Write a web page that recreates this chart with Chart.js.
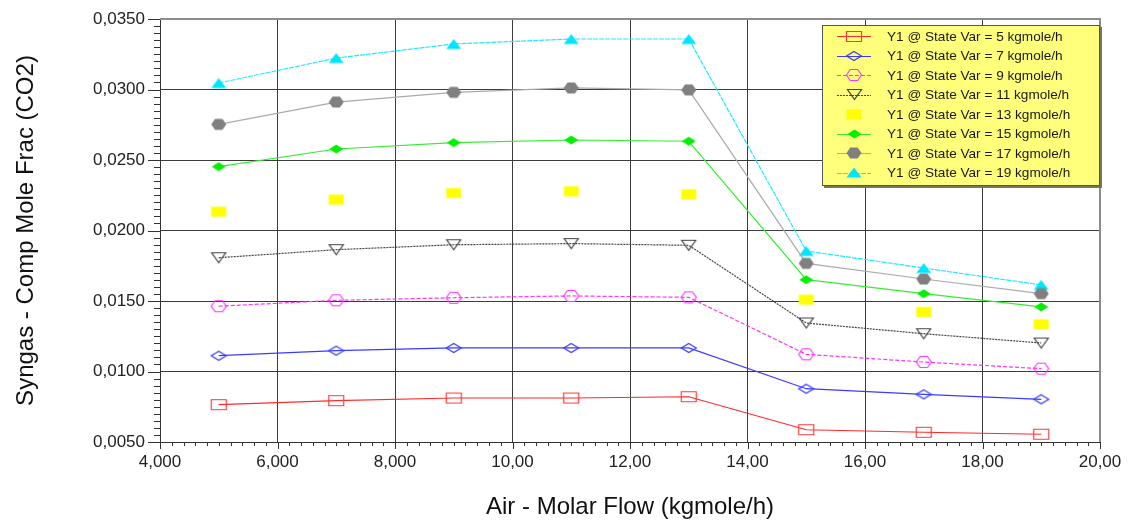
<!DOCTYPE html>
<html>
<head>
<meta charset="utf-8">
<title>Syngas CO2 mole fraction vs air flow</title>
<script src="https://cdn.jsdelivr.net/npm/chart.js@4/dist/chart.umd.min.js"></script>
<style>
  html, body { margin: 0; padding: 0; background: #ffffff; }
  #wrap { width: 1129px; height: 524px; position: relative; }
</style>
</head>
<body>
<div id="wrap"><canvas id="chart" width="1129" height="524"></canvas></div>
<script>
// Air molar flow (kgmole/h) for each case
const airFlow = [5, 7, 9, 11, 13, 15, 17, 19];

// CO2 mole fraction in syngas, one array per state variable value
const sv5  = [0.00765, 0.00793, 0.00812, 0.00812, 0.00821, 0.00587, 0.00569, 0.00555];
const sv7  = [0.01112, 0.01148, 0.01167, 0.01167, 0.01167, 0.00878, 0.00838, 0.00803];
const sv9  = [0.01463, 0.01505, 0.01523, 0.01536, 0.01526, 0.01122, 0.01067, 0.01020];
const sv11 = [0.01807, 0.01864, 0.01899, 0.01907, 0.01895, 0.01344, 0.01268, 0.01202];
const sv13 = [0.02133, 0.02219, 0.02266, 0.02278, 0.02257, 0.01509, 0.01422, 0.01335];
const sv15 = [0.02453, 0.02578, 0.02623, 0.02642, 0.02633, 0.01651, 0.01552, 0.01458];
const sv17 = [0.02753, 0.02911, 0.02980, 0.03011, 0.02997, 0.01767, 0.01656, 0.01552];
const sv19 = [0.03046, 0.03223, 0.03323, 0.03358, 0.03358, 0.01855, 0.01734, 0.01614];

const seriesLabels = [
  'Y1 @ State Var = 5 kgmole/h',
  'Y1 @ State Var = 7 kgmole/h',
  'Y1 @ State Var = 9 kgmole/h',
  'Y1 @ State Var = 11 kgmole/h',
  'Y1 @ State Var = 13 kgmole/h',
  'Y1 @ State Var = 15 kgmole/h',
  'Y1 @ State Var = 17 kgmole/h',
  'Y1 @ State Var = 19 kgmole/h'
];

const xTickValues = [4, 6, 8, 10, 12, 14, 16, 18, 20];
const xTickLabels = ['4,000', '6,000', '8,000', '10,00', '12,00', '14,00', '16,00', '18,00', '20,00'];
const yTickValues = [0.005, 0.010, 0.015, 0.020, 0.025, 0.030, 0.035];
const yTickLabels = ['0,0050', '0,0100', '0,0150', '0,0200', '0,0250', '0,0300', '0,0350'];

const xTitle = 'Air - Molar Flow (kgmole/h)';
const yTitle = 'Syngas - Comp Mole Frac (CO2)';

// ---- marker sprites -------------------------------------------------------
function marker(shape, w, h, stroke, fill) {
  const c = document.createElement('canvas');
  c.width = w + 2; c.height = h + 2;
  const g = c.getContext('2d');
  g.translate(1, 1);
  g.beginPath();
  if (shape === 'rect') {
    g.rect(0.5, 0.5, w - 1, h - 1);
  } else if (shape === 'diamond') {
    g.moveTo(w / 2, 0.5); g.lineTo(w - 0.5, h / 2); g.lineTo(w / 2, h - 0.5); g.lineTo(0.5, h / 2);
    g.closePath();
  } else if (shape === 'hex') {
    g.moveTo(0.5, h / 2); g.lineTo(w * 0.27, 0.5); g.lineTo(w * 0.73, 0.5);
    g.lineTo(w - 0.5, h / 2); g.lineTo(w * 0.73, h - 0.5); g.lineTo(w * 0.27, h - 0.5);
    g.closePath();
  } else if (shape === 'triDown') {
    g.moveTo(0.5, 0.5); g.lineTo(w - 0.5, 0.5); g.lineTo(w / 2, h - 0.5); g.closePath();
  } else if (shape === 'triUp') {
    g.moveTo(w / 2, 0.5); g.lineTo(w - 0.5, h - 0.5); g.lineTo(0.5, h - 0.5); g.closePath();
  }
  if (fill) { g.fillStyle = fill; g.fill(); }
  if (stroke) { g.strokeStyle = stroke; g.lineWidth = 1.2; g.stroke(); }
  return c;
}

const styles = [
  { line: '#ff2a2a', dash: [],     show: true,  pt: marker('rect',    16, 11, '#ff3a3a', null) },
  { line: '#3a3aff', dash: [],     show: true,  pt: marker('diamond', 16, 10, '#3a3aff', null) },
  { line: '#ff33ff', dash: [4, 2], show: true,  pt: marker('hex',     16, 12, '#ff33ff', null) },
  { line: '#444444', dash: [2, 1], show: true,  pt: marker('triDown', 15, 11, '#444444', null) },
  { line: '#ffff00', dash: [],     show: false, pt: marker('rect',    16, 11, null, '#ffff00') },
  { line: '#33ee33', dash: [],     show: true,  pt: marker('diamond', 15, 10, null, '#00f000') },
  { line: '#aaaaaa', dash: [],     show: true,  pt: marker('hex',     16, 12, null, '#808080') },
  { line: '#22e8ff', dash: [5, 1], show: true,  pt: marker('triUp',   16, 11, null, '#00e5ff') }
];

const seriesValues = [sv5, sv7, sv9, sv11, sv13, sv15, sv17, sv19];

const datasets = seriesValues.map((vals, i) => ({
  label: seriesLabels[i],
  data: airFlow.map((x, j) => ({ x: x, y: vals[j] })),
  borderColor: styles[i].line,
  borderWidth: 1.2,
  borderDash: styles[i].dash,
  showLine: styles[i].show,
  pointStyle: styles[i].pt,
  pointRadius: 6,
  pointHoverRadius: 6,
  tension: 0,
  fill: false
}));

const FONT = '"Liberation Sans", Arial, Helvetica, sans-serif';

// ---- frame, minor ticks and legend box --------------------------------------
const decorations = {
  id: 'decorations',
  afterDraw(chart) {
    const ctx = chart.ctx;
    const a = chart.chartArea;
    const xs = chart.scales.x, ys = chart.scales.y;
    ctx.save();

    // top and right frame
    ctx.strokeStyle = '#8c8c8c';
    ctx.lineWidth = 2;
    ctx.beginPath();
    ctx.moveTo(a.left, a.top); ctx.lineTo(a.right, a.top); ctx.lineTo(a.right, a.bottom);
    ctx.stroke();

    // tick marks on both axes
    ctx.strokeStyle = '#333333';
    ctx.lineWidth = 1;
    ctx.beginPath();
    for (let k = 0; k <= 80; k++) {
      const v = 4 + k * 0.2;
      const px = Math.round(xs.getPixelForValue(v)) + 0.5;
      const len = (k % 10 === 0) ? 7 : 4;
      ctx.moveTo(px, a.bottom); ctx.lineTo(px, a.bottom + len);
    }
    for (let k = 0; k <= 60; k++) {
      const v = 0.005 + k * 0.0005;
      const py = Math.round(ys.getPixelForValue(v)) + 0.5;
      const len = (k % 10 === 0) ? 12 : 6;
      ctx.moveTo(a.left - len, py); ctx.lineTo(a.left, py);
    }
    ctx.stroke();

    // legend
    const bx = 822, by = 25, bw = 278, bh = 161;
    ctx.fillStyle = '#77775a';
    ctx.fillRect(bx + 2, by + 2, bw, bh);
    ctx.fillStyle = '#ffff7c';
    ctx.fillRect(bx, by, bw, bh);
    ctx.strokeStyle = '#555555';
    ctx.lineWidth = 1;
    ctx.strokeRect(bx + 0.5, by + 0.5, bw - 1, bh - 1);

    ctx.font = '13.6px ' + FONT;
    ctx.textBaseline = 'middle';
    ctx.textAlign = 'left';
    chart.data.datasets.forEach((ds, i) => {
      const cy = 36 + i * 19.5;
      if (ds.showLine) {
        ctx.save();
        ctx.strokeStyle = ds.borderColor;
        ctx.lineWidth = 1.2;
        ctx.setLineDash(ds.borderDash);
        ctx.beginPath();
        ctx.moveTo(837, Math.round(cy) + 0.5); ctx.lineTo(871, Math.round(cy) + 0.5);
        ctx.stroke();
        ctx.restore();
      }
      const img = ds.pointStyle;
      ctx.drawImage(img, Math.round(854 - img.width / 2), Math.round(cy - img.height / 2));
      ctx.fillStyle = '#1a1a1a';
      ctx.fillText(ds.label, 887, cy + 1);
    });
    ctx.restore();
  }
};

new Chart(document.getElementById('chart'), {
  type: 'line',
  data: { datasets: datasets },
  plugins: [decorations],
  options: {
    responsive: false,
    animation: false,
    events: [],
    layout: { padding: { left: 0, right: 29, top: 19, bottom: 0 } },
    plugins: {
      legend: { display: false },
      tooltip: { enabled: false }
    },
    scales: {
      x: {
        type: 'linear',
        min: 4, max: 20,
        afterBuildTicks(scale) { scale.ticks = xTickValues.map(v => ({ value: v })); },
        afterFit(scale) { scale.height = 82; scale.paddingLeft = 0; scale.paddingRight = 0; },
        ticks: {
          color: '#222222',
          font: { family: FONT, size: 17 },
          padding: 10,
          maxRotation: 0,
          autoSkip: false,
          callback: (v) => xTickLabels[xTickValues.indexOf(v)]
        },
        grid: { color: '#3c3c3c', lineWidth: 1, drawTicks: false },
        border: { display: true, color: '#333333', width: 1 },
        title: {
          display: true,
          text: xTitle,
          color: '#111111',
          font: { family: FONT, size: 24 },
          padding: { top: 0, bottom: 2 }
        }
      },
      y: {
        type: 'linear',
        min: 0.005, max: 0.035,
        afterBuildTicks(scale) { scale.ticks = yTickValues.map(v => ({ value: v })); },
        afterFit(scale) { scale.width = 160; scale.paddingTop = 0; scale.paddingBottom = 0; },
        ticks: {
          color: '#222222',
          font: { family: FONT, size: 17 },
          padding: 15,
          autoSkip: false,
          callback: (v) => yTickLabels[yTickValues.findIndex(t => Math.abs(t - v) < 1e-9)]
        },
        grid: { color: '#3c3c3c', lineWidth: 1, drawTicks: false },
        border: { display: true, color: '#333333', width: 1 },
        title: {
          display: true,
          text: yTitle,
          color: '#111111',
          font: { family: FONT, size: 24 },
          padding: { top: 12, bottom: 0 }
        }
      }
    }
  }
});
</script>
</body>
</html>
